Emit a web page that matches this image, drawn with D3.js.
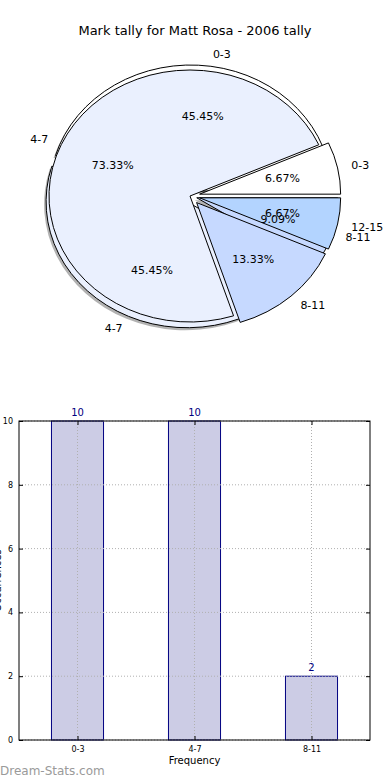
<!DOCTYPE html>
<html><head><meta charset="utf-8">
<script src="https://cdn.jsdelivr.net/npm/d3@7"></script>
<style>body{margin:0;background:#fff}text{font-family:"DejaVu Sans",sans-serif}</style>
</head><body>
<script>
// ---- data ----
const title = "Mark tally for Matt Rosa - 2006 tally";
const pieBackCats = ["0-3", "4-7", "8-11"];
const pieBackVals = [10, 10, 2];
const pieFrontCats = ["0-3", "4-7", "8-11", "12-15"];
const pieFrontVals = [1, 11, 2, 1];
const barCats = ["0-3", "4-7", "8-11"];
const barVals = [10, 10, 2];
const yTicks = [0, 2, 4, 6, 8, 10];
// ---- styles ----
const catColor = {"0-3": "#ffffff", "4-7": "#eaf0fe", "8-11": "#c6d9ff", "12-15": "#b3d4ff"};
const backExplode = [0.04, 0.05, 0.05];
const frontExplode = [0.07, 0, 0.07, 0.07];

const W = 390, H = 780;
const svg = d3.select("body").append("svg").attr("width", W).attr("height", H);

svg.append("text").attr("x", 195).attr("y", 35).attr("text-anchor", "middle")
  .attr("font-size", 13).text(title);

// ---- pie ----
const cx = 190, cy = 196, rx = 141, ry = 126, R = 100;
const pie = d3.pie().sort(null).startAngle(Math.PI / 2).endAngle(Math.PI / 2 - 2 * Math.PI);
const arc = d3.arc().innerRadius(0).outerRadius(R);
const pieG = svg.append("g").attr("transform", `translate(${cx},${cy}) scale(${rx / R},${ry / R})`);

function drawPie(cats, vals, expl, shadow) {
  const arcs = pie(vals);
  const mid = a => (a.startAngle + a.endAngle) / 2;
  const off = (a, i) => [expl[i] * R * Math.sin(mid(a)), -expl[i] * R * Math.cos(mid(a))];
  if (shadow) {
    pieG.selectAll(null).data(arcs).enter().append("path")
      .attr("d", arc)
      .attr("transform", (a, i) => { const o = off(a, i); return `translate(${o[0] - 1.4},${o[1] + 2})`; })
      .attr("fill", "#555").attr("fill-opacity", 0.45);
  }
  pieG.selectAll(null).data(arcs).enter().append("path")
    .attr("d", arc)
    .attr("transform", (a, i) => { const o = off(a, i); return `translate(${o[0]},${o[1]})`; })
    .attr("fill", (a, i) => catColor[cats[i]])
    .attr("stroke", "#000").attr("stroke-width", 1)
    .attr("vector-effect", "non-scaling-stroke").attr("stroke-linejoin", "round");
  return arcs.map((a, i) => {
    const m = mid(a), s = Math.sin(m), c = -Math.cos(m);
    return {
      cat: cats[i],
      pct: (100 * vals[i] / d3.sum(vals)).toFixed(2) + "%",
      lx: cx + rx * (1.1 + expl[i]) * s, ly: cy + ry * (1.1 + expl[i]) * c,
      px: cx + rx * (0.6 + expl[i]) * s, py: cy + ry * (0.6 + expl[i]) * c
    };
  });
}
const lb1 = drawPie(pieBackCats, pieBackVals, backExplode, true);
const lb2 = drawPie(pieFrontCats, pieFrontVals, frontExplode, false);
const allLabels = lb1.concat(lb2);
svg.selectAll(null).data(allLabels).enter().append("text")
  .attr("x", d => d.lx).attr("y", d => d.ly).attr("dy", "0.35em")
  .attr("text-anchor", d => d.lx > cx ? "start" : "end")
  .attr("font-size", 11).text(d => d.cat);
svg.selectAll(null).data(allLabels).enter().append("text")
  .attr("x", d => d.px).attr("y", d => d.py).attr("dy", "0.35em")
  .attr("text-anchor", "middle").attr("font-size", 11).text(d => d.pct);

// ---- bar chart ----
const bx0 = 19, bx1 = 370, by0 = 421, by1 = 740;
const x = d3.scalePoint().domain(barCats).range([bx0, bx1]).padding(0.5);
const bw = x.step() * 0.445;
const y = d3.scaleLinear().domain([0, 10]).range([by1, by0]);
const bg = svg.append("g");

bg.selectAll(null).data(barCats).enter().append("rect")
  .attr("x", d => x(d) - bw / 2).attr("width", bw)
  .attr("y", (d, i) => y(barVals[i])).attr("height", (d, i) => y(0) - y(barVals[i]))
  .attr("fill", "#ccccE5").attr("stroke", "#000080").attr("stroke-width", 1);

// grid
bg.selectAll(null).data(yTicks).enter().append("line")
  .attr("x1", bx0).attr("x2", bx1).attr("y1", d => y(d)).attr("y2", d => y(d))
  .attr("stroke", "#b0b0b0").attr("stroke-dasharray", "1,2");
bg.selectAll(null).data(barCats).enter().append("line")
  .attr("x1", d => x(d)).attr("x2", d => x(d)).attr("y1", by0).attr("y2", by1)
  .attr("stroke", "#b0b0b0").attr("stroke-dasharray", "1,2");

// frame
bg.append("rect").attr("x", bx0).attr("y", by0).attr("width", bx1 - bx0).attr("height", by1 - by0)
  .attr("fill", "none").attr("stroke", "#000").attr("stroke-width", 1);

// axes
const yAxL = d3.axisLeft(y).tickValues(yTicks).tickSize(-4).tickPadding(6);
const yAxR = d3.axisRight(y).tickValues(yTicks).tickSize(-4).tickFormat("");
const xAxB = d3.axisBottom(x).tickSize(-4).tickPadding(6);
const xAxT = d3.axisTop(x).tickSize(-4).tickFormat("");
function styleAx(g) { g.select(".domain").remove(); g.selectAll("text").attr("font-size", 8).attr("font-family", "DejaVu Sans"); g.selectAll("line").attr("stroke", "#000"); }
bg.append("g").attr("transform", `translate(${bx0},0)`).call(yAxL).call(styleAx);
bg.append("g").attr("transform", `translate(${bx1},0)`).call(yAxR).call(styleAx);
bg.append("g").attr("transform", `translate(0,${by1})`).call(xAxB).call(styleAx);
bg.append("g").attr("transform", `translate(0,${by0})`).call(xAxT).call(styleAx);

// value labels
bg.selectAll(null).data(barCats).enter().append("text")
  .attr("x", d => x(d)).attr("y", (d, i) => y(barVals[i]) - 5)
  .attr("text-anchor", "middle").attr("font-size", 10).attr("fill", "#000080")
  .text((d, i) => barVals[i]);

svg.append("text").attr("x", x(barCats[1])).attr("y", 764).attr("text-anchor", "middle")
  .attr("font-size", 10).text("Frequency");
svg.append("text").attr("transform", `translate(0.5,${(by0 + by1) / 2}) rotate(-90)`)
  .attr("text-anchor", "middle").attr("font-size", 10).text("Occurrences");

svg.append("text").attr("x", 0).attr("y", 775).attr("font-size", 12)
  .attr("fill", "#9a9a9a").text("Dream-Stats.com");
</script>
</body></html>
